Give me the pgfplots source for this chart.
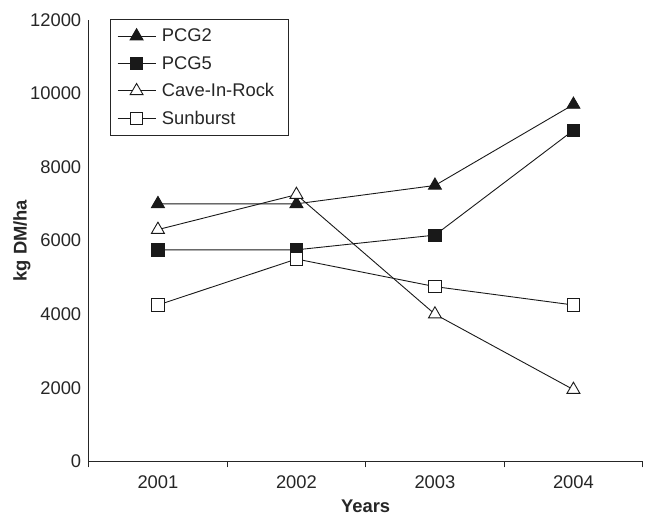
\documentclass[border=0pt]{standalone}
\usepackage{fontspec}
\setmainfont{Liberation Sans}
\usepackage{pgfplots}
\pgfplotsset{compat=1.18}

\begin{document}
\begin{tikzpicture}
\begin{axis}[
  name=ax,
  width=556bp, height=443bp, scale only axis,
  xmin=0.5, xmax=4.5, ymin=0, ymax=12000,
  axis x line=bottom, axis y line=left,
  axis line style={-, line width=1bp, black!85},
  xtick={1,2,3,4}, xticklabels={2001,2002,2003,2004},
  extra x ticks={0.5,1.5,2.5,3.5,4.5}, extra x tick labels={},
  extra x tick style={major tick length=6bp, tick align=outside, tick style={line width=1bp, black!85}},
  ytick={0,2000,...,12000},
  major tick length=0pt,
  scaled y ticks=false,
  /pgf/number format/1000 sep={},
  /pgf/number format/assume math mode=true,
  tick label style={font=\fontsize{18.5}{21}\selectfont, text=black!85},
  xticklabel style={anchor=base, yshift=-27bp},
  yticklabel style={xshift=-4bp},
  xlabel={\bfseries Years}, ylabel={\bfseries kg DM/ha},
  every axis x label/.style={at={(axis description cs:0.5,0)}, yshift=-45bp, anchor=center},
  every axis y label/.style={at={(axis description cs:0,0.5)}, xshift=-67bp, rotate=90, anchor=center},
  label style={font=\fontsize{18.5}{21}\selectfont, text=black!85},
  legend style={at={(axis description cs:0.038,1.002)}, anchor=north west, draw=black!85, line width=1bp,
    fill=white, font=\fontsize{18.5}{21}\selectfont, text=black!85, row sep=9bp, inner xsep=7bp, inner ysep=7.5bp},
  legend cell align=left,
  legend image code/.code={\draw[mark repeat=2,mark phase=2] plot coordinates {(0bp,0bp) (19bp,0bp) (38bp,0bp)};
    \path (42bp,0bp);},
  every axis plot/.append style={line width=0.9bp, black!90},
]
\addplot[mark=triangle*, mark size=7.5, mark options={solid, fill=black!90}] coordinates {(1,7000) (2,7000) (3,7500) (4,9700)};
\addplot[mark=square*, mark size=6.2, mark options={solid, fill=black!90}] coordinates {(1,5750) (2,5750) (3,6150) (4,9000)};
\addplot[mark=triangle*, mark size=7.5, mark options={solid, fill=white}] coordinates {(1,6300) (2,7250) (3,4000) (4,1950)};
\addplot[mark=square*, mark size=6.2, mark options={solid, fill=white}] coordinates {(1,4250) (2,5500) (3,4750) (4,4250)};
\legend{PCG2, PCG5, Cave-In-Rock\hspace*{5bp}, Sunburst}
\end{axis}
\path ([xshift=-89bp,yshift=20bp]ax.north west) ([xshift=1bp,yshift=-53bp]ax.south east);
\end{tikzpicture}
\end{document}
